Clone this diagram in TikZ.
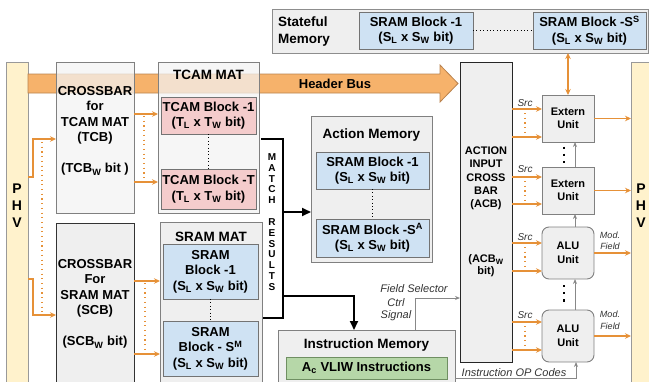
\documentclass[tikz,border=0pt]{standalone}
\usepackage{fontspec}
\setmainfont{Liberation Sans}
\usetikzlibrary{arrows.meta,calc}
\definecolor{org}{HTML}{E69138}
\definecolor{busfill}{HTML}{F6B26B}
\definecolor{busdraw}{HTML}{B9824E}
\definecolor{bblue}{HTML}{CFE2F3}
\definecolor{bpink}{HTML}{F4CCCC}
\definecolor{bgreen}{HTML}{B6D7A8}
\definecolor{gdraw}{HTML}{6F8F62}
\definecolor{lgray}{HTML}{EFEFEF}
\definecolor{lgrayb}{HTML}{F3F3F3}
\definecolor{phvy}{HTML}{FFF2CC}
\definecolor{bord}{HTML}{808080}
\definecolor{garrc}{HTML}{888888}
\newcommand\fsz[2]{\fontsize{#1}{#2}\selectfont}
\begin{document}
\begin{tikzpicture}[x=1pt,y=-1pt,
  box/.style={draw=bord, line width=0.9pt, inner sep=0pt, outer sep=0pt, anchor=north west, fill=lgray},
  tbox/.style={box, fill=lgrayb, fill opacity=0.72, text opacity=1},
  blue/.style={box, fill=bblue, draw=bord!90!black},
  pink/.style={box, fill=bpink, draw=bord!90!black},
  txt/.style={font=\bfseries\fsz{13}{15.5}, align=center, inner sep=0pt},
  ttl/.style={font=\bfseries\fsz{13.5}{17}, align=center, inner sep=0pt},
  sml/.style={font=\bfseries\fsz{11}{13.5}, align=center, inner sep=0pt},
  itl/.style={font=\itshape\fsz{11}{13.5}, text=black!80, align=center, inner sep=0pt},
  phvt/.style={font=\bfseries\fsz{14}{17}, align=center, inner sep=0pt},
  oarr/.style={draw=org, line width=1.2pt, -{Stealth[length=6pt,width=5.5pt]}},
  odot/.style={draw=org, line width=1.1pt, dash pattern=on 1.1pt off 3.6pt},
  bdot/.style={draw=black, line width=0.9pt, dash pattern=on 1pt off 2.4pt},
  kdot/.style={draw=black, line width=2.2pt, dash pattern=on 2.2pt off 5pt},
  garr/.style={draw=garrc, line width=1pt, -{Stealth[length=5pt,width=4pt]}},
  barr/.style={draw=black, line width=2pt, -{Triangle[length=9pt,width=8pt]}}
]
\useasboundingbox (0,0) rectangle (649,381);
\clip (0,0) rectangle (649,381);

% PHV columns
\node[box, fill=phvy, draw=bord!80, minimum width=22pt, minimum height=330pt] (phvL) at (6,62) {};
\node[phvt] (phvLt) at (17,206) {P\\H\\V};
\node[box, fill=phvy, draw=bord!80, minimum width=22pt, minimum height=330pt] (phvR) at (631,62) {};
\node[phvt] (phvRt) at (641,206) {P\\H\\V};

% Header bus
\draw[busdraw, fill=busfill, line width=0.8pt] (28,74) -- (440,74) -- (440,65) -- (458,83.5) -- (440,102) -- (440,93) -- (28,93) -- cycle;
\node[txt] (hbt) at (335,83.5) {Header Bus};

% Stateful memory
\node[box, draw=bord!90, minimum width=376pt, minimum height=44pt] (sm) at (272,9) {};
\node[ttl, anchor=west, align=left] (smt) at (278,31.5) {Stateful\\Memory};
\node[blue, txt, minimum width=114pt, minimum height=37pt] (ss1) at (359,12) {SRAM Block -1\\(S\textsubscript{L} x S\textsubscript{W} bit)};
\node[blue, txt, minimum width=113pt, minimum height=37pt] (ssS) at (533,12) {SRAM Block -S\textsuperscript{S}\\(S\textsubscript{L} x S\textsubscript{W} bit)};
\draw[bdot] (ss1.east) -- (ssS.west);

% Crossbars
\node[tbox, minimum width=78pt, minimum height=151pt] (TCB) at (56,62) {};
\node[txt] (TCBt) at (95,131) {CROSSBAR\\for\\TCAM MAT\\(TCB)\\[15.5pt](TCB\textsubscript{W} bit )};
\node[box, draw=black!80, minimum width=78pt, minimum height=170pt] (SCB) at (56,223) {};
\node[txt] (SCBt) at (95,304) {CROSSBAR\\For\\SRAM MAT\\(SCB)\\[15.5pt](SCB\textsubscript{W} bit)};

% Match results frame
\node[inner sep=0pt, outer sep=0pt, anchor=north west, minimum width=22pt, minimum height=179pt] (mr) at (261,139) {};
\draw[line width=2pt] (mr.north west) -- (mr.north east) -- (mr.south east) -- (mr.south west);
\node[font=\bfseries\fsz{10}{10.83}, align=center, inner sep=0pt] (mrt) at (272,222) {M\\A\\T\\C\\H\\[10.83pt]R\\E\\S\\U\\L\\T\\S};

% TCAM MAT
\node[tbox, minimum width=101pt, minimum height=151pt] (tcam) at (158,62) {};
\node[ttl] (tcamt) at (208.5,75) {TCAM MAT};
\node[pink, txt, minimum width=95pt, minimum height=37pt] (tb1) at (161,97) {TCAM Block -1\\(T\textsubscript{L} x T\textsubscript{W} bit)};
\node[pink, txt, minimum width=95pt, minimum height=40pt] (tbT) at (161,169) {TCAM Block -T\\(T\textsubscript{L} x T\textsubscript{W} bit)};
\draw[bdot] (tb1.south) -- (tbT.north);

% SRAM MAT
\node[box, minimum width=102pt, minimum height=170pt] (smat) at (160,222) {};
\node[ttl] (smatt) at (211,237) {SRAM MAT};
\node[blue, txt, minimum width=95pt, minimum height=55pt] (sm1) at (163,244) {SRAM\\Block -1\\(S\textsubscript{L} x S\textsubscript{W} bit)};
\node[blue, txt, minimum width=95pt, minimum height=55pt] (smM) at (163,321) {SRAM\\Block - S\textsuperscript{M}\\(S\textsubscript{L} x S\textsubscript{W} bit)};
\draw[bdot] (sm1.south) -- (smM.north);

% Action memory
\node[box, minimum width=121pt, minimum height=146pt] (am) at (311,116) {};
\node[ttl] (amt) at (371.5,135) {Action Memory};
\node[blue, txt, minimum width=113pt, minimum height=37pt] (am1) at (316,152) {SRAM Block -1\\(S\textsubscript{L} x S\textsubscript{W} bit)};
\node[blue, txt, minimum width=113pt, minimum height=38pt] (amA) at (316,219) {SRAM Block -S\textsuperscript{A}\\(S\textsubscript{L} x S\textsubscript{W} bit)};
\draw[bdot] (am1.south) -- (amA.north);

% Instruction memory
\node[box, minimum width=177pt, minimum height=62pt] (im) at (278,330) {};
\node[ttl] (imt) at (366.5,345) {Instruction Memory};
\node[box, fill=bgreen, draw=gdraw, txt, minimum width=161pt, minimum height=22pt] (vliw) at (286,357) {A\textsubscript{c} VLIW Instructions};

% ACB
\node[box, draw=black!85, minimum width=52pt, minimum height=300pt] (acb) at (460,62) {};
\node[sml, font=\bfseries\fsz{11}{13.25}] (acbt1) at (486,178.5) {ACTION\\INPUT\\CROSS\\BAR\\(ACB)};
\node[sml, font=\bfseries\fsz{11}{12}] (acbt2) at (486,266) {(ACB\textsubscript{W}\\bit)};

% Units
\node[box, sml, minimum width=52pt, minimum height=47pt] (ext1) at (542,95) {Extern\\Unit};
\node[box, sml, minimum width=52pt, minimum height=47pt] (ext2) at (542,167) {Extern\\Unit};
\node[box, sml, rounded corners=7pt, minimum width=52pt, minimum height=52pt] (alu1) at (542,227) {ALU\\Unit};
\node[box, sml, rounded corners=7pt, minimum width=52pt, minimum height=52pt] (alu2) at (542,310) {ALU\\Unit};

% Orange arrows left
\draw[oarr] (phvL.east |- 0,177) -- (33,177) -- (33,139) -- (TCB.west |- 0,139);
\draw[oarr] (phvL.east |- 0,279) -- (33,279) -- (33,315) -- (SCB.west |- 0,315);
\draw[odot] (42,142) -- (42,312);
\draw[oarr] (TCB.east |- 0,114) -- (tcam.west |- 0,114);
\draw[oarr] (TCB.east |- 0,182) -- (tcam.west |- 0,182);
\draw[odot] (144,116) -- (144,180);
\draw[oarr] (SCB.east |- 0,281) -- (smat.west |- 0,281);
\draw[oarr] (SCB.east |- 0,354) -- (smat.west |- 0,354);
\draw[odot] (145,283) -- (145,352);

% Black thick arrows
\draw[barr] (mr.east |- 0,212) -- (am.west |- 0,212);
\draw[barr] (mr.east |- 0,296) -| (354,0 |- im.north);

% Field selector
\draw[garr] (415,0 |- im.north) |- (acb.west |- 0,298);
\node[itl] (fs1) at (414,289) {Field Selector};
\node[itl] (fs2) at (396,303) {Ctrl};
\node[itl] (fs3) at (396,316) {Signal};

% Op codes
\draw[garr] (im.east |- 0,378) -| ($(alu2.south)+(8,0)$);
\node[itl] (opc) at (514,372.5) {Instruction OP Codes};

% Src arrows
\foreach \u/\a/\b/\s in {ext1/109/137/103, ext2/177/204/169, alu1/243/271/237, alu2/322/350/315}{
  \draw[oarr] (acb.east |- 0,\a) -- (\u.west |- 0,\a);
  \draw[oarr] (acb.east |- 0,\b) -- (\u.west |- 0,\b);
  \draw[odot] (525,\a+4) -- (525,\b-3);
  \node[itl, font=\itshape\fsz{10}{12}] at (525,\s) {Src};
}

% Unit chain
\draw[garr] ($(alu2.north)+(7,0)$) -- ($(alu1.south)+(7,0)$);
\draw[garr] ($(alu1.north)+(7,0)$) -- ($(ext2.south)+(7,0)$);
\draw[garr] ($(ext2.north)+(7,0)$) -- ($(ext1.south)+(7,0)$);
\draw[kdot] (564,146.5) -- (564,165);
\draw[kdot] (564,285) -- (564,306);

% Outputs
\draw[oarr] (ext1.east) -- (phvR.west |- ext1.east);
\draw[oarr] (ext2.east) -- (phvR.west |- ext2.east);
\draw[oarr] (alu1.east) -- (phvR.west |- alu1.east);
\draw[oarr] (alu2.east) -- (phvR.west |- alu2.east);
\node[itl, font=\itshape\fsz{9}{11.5}] (mf1) at (610,241) {Mod.\\Field};
\node[itl, font=\itshape\fsz{9}{11.5}] (mf2) at (610,320.5) {Mod.\\Field};

% Stateful <-> extern
\draw[draw=org, line width=1.2pt, {Stealth[length=6pt,width=5.5pt]}-{Stealth[length=6pt,width=5.5pt]}] (ext1.north |- sm.south) -- (ext1.north);
\end{tikzpicture}
\end{document}
